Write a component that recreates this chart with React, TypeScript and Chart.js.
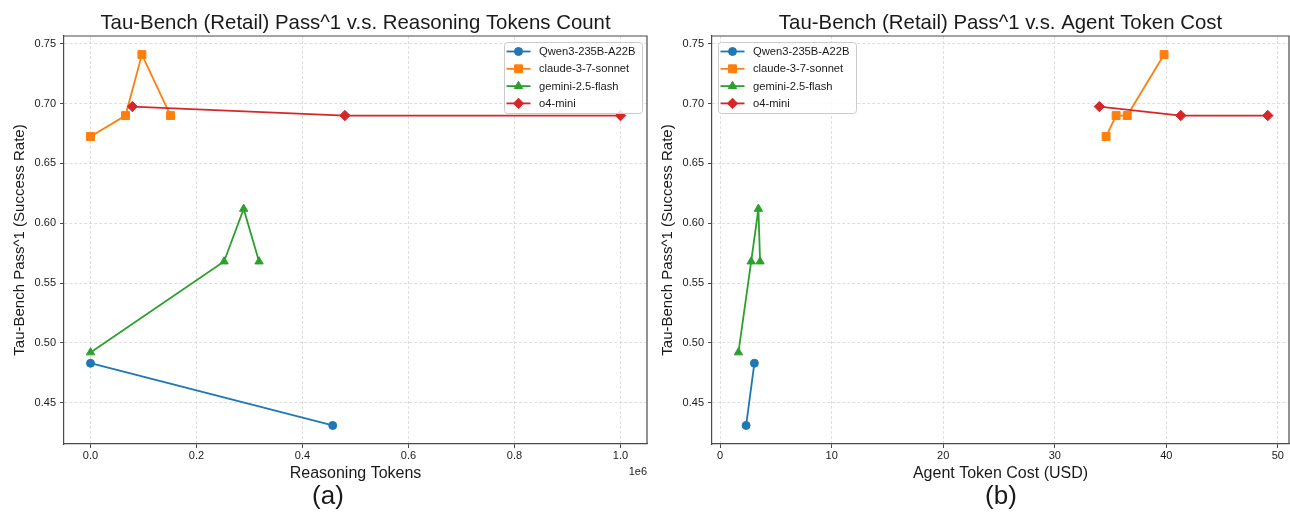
import React, { useEffect, useRef } from "react";
import { Chart, registerables } from "chart.js";

Chart.register(...registerables);

// ---------- data ----------
const seriesNames = ["Qwen3-235B-A22B", "claude-3-7-sonnet", "gemini-2.5-flash", "o4-mini"];

// Panel (a): reasoning tokens vs pass^1
const qwenTokens = [0, 457000];
const qwenPassA = [0.483, 0.431];
const claudeTokens = [0, 66000, 97000, 151000];
const claudePassA = [0.6725, 0.69, 0.741, 0.69];
const geminiTokens = [0, 252000, 289000, 318000];
const geminiPassA = [0.492, 0.568, 0.612, 0.568];
const o4Tokens = [79000, 480000, 1000000];
const o4PassA = [0.6975, 0.69, 0.69];

// Panel (b): agent token cost (USD) vs pass^1
const qwenCost = [2.33, 3.07];
const qwenPassB = [0.431, 0.483];
const claudeCost = [34.6, 35.5, 36.5, 39.8];
const claudePassB = [0.6725, 0.69, 0.69, 0.741];
const geminiCost = [1.64, 2.78, 3.43, 3.58];
const geminiPassB = [0.492, 0.568, 0.612, 0.568];
const o4Cost = [34.0, 41.3, 49.1];
const o4PassB = [0.6975, 0.69, 0.69];

// ticks
const tokenTicks = [0, 200000, 400000, 600000, 800000, 1000000];
const tokenTickLabels = ["0.0", "0.2", "0.4", "0.6", "0.8", "1.0"];
const costTicks = [0, 10, 20, 30, 40, 50];
const costTickLabels = ["0", "10", "20", "30", "40", "50"];
const passTicks = [0.45, 0.5, 0.55, 0.6, 0.65, 0.7, 0.75];
const passTickLabels = ["0.45", "0.50", "0.55", "0.60", "0.65", "0.70", "0.75"];

const titleA = "Tau-Bench (Retail) Pass^1 v.s. Reasoning Tokens Count";
const titleB = "Tau-Bench (Retail) Pass^1 v.s. Agent Token Cost";
const xLabelA = "Reasoning Tokens";
const xLabelB = "Agent Token Cost (USD)";
const yLabel = "Tau-Bench Pass^1 (Success Rate)";

// ---------- styles ----------
const FONT = '"Liberation Sans", Arial, Helvetica, sans-serif';
const COLORS = ["#1f77b4", "#ff7f0e", "#2ca02c", "#d62728"];
const MARKERS = ["circle", "rect", "triangle", "rectRot"];
const RADII = [4, 5.6, 4.8, 5.2];
const SPINE = "#4a4a4a";
const TEXT = "#1a1a1a";
const GRID = "#d6d6d6";

Chart.defaults.font.family = FONT;
Chart.defaults.color = TEXT;

function drawMarker(ctx: CanvasRenderingContext2D, style: string, x: number, y: number, r: number) {
  ctx.beginPath();
  if (style === "circle") {
    ctx.arc(x, y, r, 0, Math.PI * 2);
  } else if (style === "rect") {
    const s = r * Math.SQRT1_2;
    ctx.rect(x - s, y - s, 2 * s, 2 * s);
  } else if (style === "triangle") {
    ctx.moveTo(x, y - r);
    ctx.lineTo(x + r * 0.866, y + r * 0.5);
    ctx.lineTo(x - r * 0.866, y + r * 0.5);
  } else {
    ctx.moveTo(x, y - r);
    ctx.lineTo(x + r, y);
    ctx.lineTo(x, y + r);
    ctx.lineTo(x - r, y);
  }
  ctx.closePath();
  ctx.fill();
  ctx.stroke();
}

const decorPlugin = {
  id: "decor",
  afterDatasetsDraw(chart: any, _args: any, opts: any) {
    const { ctx, chartArea: a } = chart;
    ctx.save();
    // top/right spines
    ctx.strokeStyle = SPINE;
    ctx.lineWidth = 1.2;
    ctx.setLineDash([]);
    ctx.beginPath();
    ctx.moveTo(a.left, a.top);
    ctx.lineTo(a.right, a.top);
    ctx.lineTo(a.right, a.bottom);
    ctx.stroke();

    // legend
    const lx = opts.legendX;
    const ly = opts.legendY;
    const lw = 138;
    const lh = 71;
    ctx.fillStyle = "rgba(255,255,255,0.85)";
    ctx.strokeStyle = "#cccccc";
    ctx.lineWidth = 1;
    ctx.beginPath();
    (ctx as any).roundRect(lx + 0.5, ly + 0.5, lw, lh, 3);
    ctx.fill();
    ctx.stroke();
    chart.data.datasets.forEach((ds: any, i: number) => {
      const yy = ly + 9.5 + i * 17.3;
      ctx.strokeStyle = COLORS[i];
      ctx.fillStyle = COLORS[i];
      ctx.lineWidth = 1.8;
      ctx.beginPath();
      ctx.moveTo(lx + 2.5, yy);
      ctx.lineTo(lx + 26.5, yy);
      ctx.stroke();
      ctx.lineWidth = 1;
      drawMarker(ctx, MARKERS[i], lx + 14.5, yy, RADII[i]);
      ctx.fillStyle = TEXT;
      ctx.font = `11.2px ${FONT}`;
      ctx.textAlign = "left";
      ctx.textBaseline = "middle";
      ctx.fillText(ds.label, lx + 35, yy + 0.5);
    });
    ctx.restore();
  },
  afterDraw(chart: any, _args: any, opts: any) {
    const { ctx, chartArea: a } = chart;
    const cx = (a.left + a.right) / 2;
    ctx.save();
    ctx.fillStyle = TEXT;
    ctx.textAlign = "center";
    // title
    ctx.font = `20.4px ${FONT}`;
    ctx.textBaseline = "alphabetic";
    ctx.fillText(opts.title, cx, 29);
    // x label
    ctx.font = `16px ${FONT}`;
    ctx.textBaseline = "middle";
    ctx.fillText(opts.xLabel, cx, 474);
    // panel label
    ctx.font = `26px ${FONT}`;
    ctx.fillText(opts.panelLabel, opts.panelLabelX, 497);
    // offset label
    if (opts.offsetLabel) {
      ctx.font = `11px ${FONT}`;
      ctx.textAlign = "right";
      ctx.fillText(opts.offsetLabel, a.right, 471.5);
    }
    // y label
    ctx.translate(opts.yLabelX, (a.top + a.bottom) / 2);
    ctx.rotate(-Math.PI / 2);
    ctx.font = `15px ${FONT}`;
    ctx.textAlign = "center";
    ctx.textBaseline = "middle";
    ctx.fillText(yLabel, 0, 0);
    ctx.restore();
  },
};

function makeDatasets(xs: number[][], ys: number[][]) {
  return seriesNames.map((name, i) => ({
    label: name,
    data: xs[i].map((x, j) => ({ x, y: ys[i][j] })),
    showLine: true,
    borderColor: COLORS[i],
    backgroundColor: COLORS[i],
    borderWidth: 1.8,
    pointStyle: MARKERS[i],
    pointRadius: RADII[i],
    pointBorderWidth: 1,
    pointBackgroundColor: COLORS[i],
    pointBorderColor: COLORS[i],
    order: seriesNames.length - 1 - i,
    tension: 0,
  }));
}

function axisCommon(tickValues: number[], tickLabels: string[]) {
  return {
    type: "linear",
    afterBuildTicks: (axis: any) => {
      axis.ticks = tickValues.map((v) => ({ value: v }));
    },
    ticks: {
      font: { size: 11, family: FONT },
      color: TEXT,
      autoSkip: false,
      maxRotation: 0,
      callback: (_v: any, i: number) => tickLabels[i],
    },
    grid: {
      color: GRID,
      lineWidth: 0.8,
      drawTicks: true,
      tickLength: 4,
      tickColor: SPINE,
      tickWidth: 1,
      tickBorderDash: [],
    },
    border: { display: true, color: SPINE, width: 1.2, dash: [3, 2] },
  };
}

type PanelProps = {
  left: number;
  width: number;
  xs: number[][];
  ys: number[][];
  xMin: number;
  xMax: number;
  xTicks: number[];
  xTickLabels: string[];
  yAxisWidth: number;
  padRight: number;
  decor: any;
};

function Panel(p: PanelProps) {
  const ref = useRef<HTMLCanvasElement | null>(null);
  useEffect(() => {
    if (!ref.current) return;
    const xAxis: any = axisCommon(p.xTicks, p.xTickLabels);
    xAxis.min = p.xMin;
    xAxis.max = p.xMax;
    xAxis.ticks.padding = 1;
    xAxis.afterFit = (s: any) => {
      s.height = 68;
    };
    const yAxis: any = axisCommon(passTicks, passTickLabels);
    yAxis.min = 0.4155;
    yAxis.max = 0.7565;
    yAxis.ticks.padding = 4;
    yAxis.afterFit = (s: any) => {
      s.width = p.yAxisWidth;
    };
    const chart = new Chart(ref.current, {
      type: "scatter",
      data: { datasets: makeDatasets(p.xs, p.ys) as any },
      options: {
        animation: false,
        responsive: false,
        devicePixelRatio: 1,
        layout: { padding: { top: 36, right: p.padRight, bottom: 0, left: 0 } },
        plugins: {
          legend: { display: false },
          tooltip: { enabled: false },
          title: { display: false },
          decor: p.decor,
        } as any,
        scales: { x: xAxis, y: yAxis },
      },
      plugins: [decorPlugin as any],
    });
    return () => chart.destroy();
  }, []);
  return (
    <canvas
      ref={ref}
      width={p.width}
      height={512}
      style={{ position: "absolute", left: p.left, top: 0, width: p.width, height: 512 }}
    />
  );
}

export default function App() {
  return (
    <div
      style={{
        position: "fixed",
        left: 0,
        top: 0,
        width: 1290,
        height: 512,
        background: "#ffffff",
        overflow: "hidden",
      }}
    >
      <Panel
        left={0}
        width={660}
        xs={[qwenTokens, claudeTokens, geminiTokens, o4Tokens]}
        ys={[qwenPassA, claudePassA, geminiPassA, o4PassA]}
        xMin={-50000}
        xMax={1050000}
        xTicks={tokenTicks}
        xTickLabels={tokenTickLabels}
        yAxisWidth={64}
        padRight={13}
        decor={{
          title: titleA,
          xLabel: xLabelA,
          panelLabel: "(a)",
          panelLabelX: 328,
          offsetLabel: "1e6",
          legendX: 504,
          legendY: 42,
          yLabelX: 20,
        }}
      />
      <Panel
        left={660}
        width={645}
        xs={[qwenCost, claudeCost, geminiCost, o4Cost]}
        ys={[qwenPassB, claudePassB, geminiPassB, o4PassB]}
        xMin={-0.73}
        xMax={51.0}
        xTicks={costTicks}
        xTickLabels={costTickLabels}
        yAxisWidth={52}
        padRight={16}
        decor={{
          title: titleB,
          xLabel: xLabelB,
          panelLabel: "(b)",
          panelLabelX: 341,
          offsetLabel: "",
          legendX: 58,
          legendY: 42,
          yLabelX: 8,
        }}
      />
    </div>
  );
}
